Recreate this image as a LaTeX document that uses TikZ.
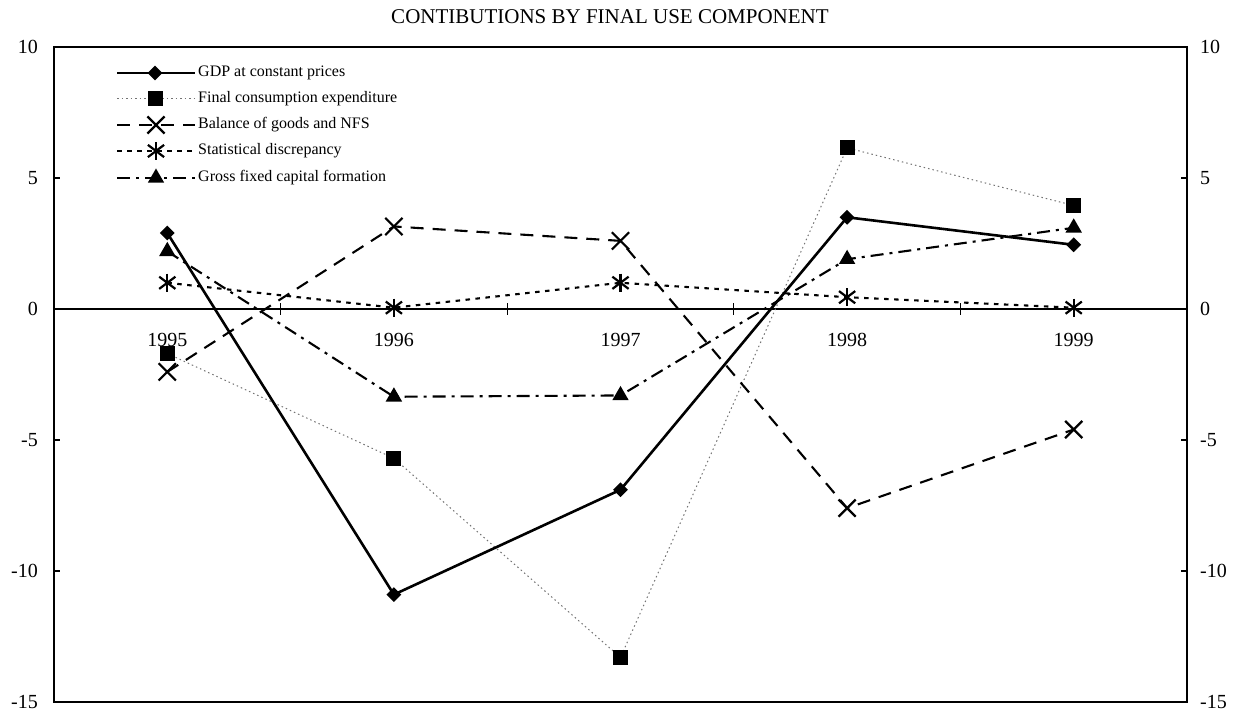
\documentclass[tikz,border=0pt]{standalone}
\usepackage{fontspec}
\setmainfont{Liberation Serif}
\usetikzlibrary{shapes.geometric,shapes.misc}
\begin{document}
\begin{tikzpicture}[x=1pt,y=1pt,
  frame/.style={line width=2.6pt},
  gdpline/.style={line width=2.6pt},
  fceline/.style={line width=1pt, black!55, dash pattern=on 1.5pt off 3pt},
  balline/.style={line width=2.1pt, dash pattern=on 13pt off 9pt},
  statline/.style={line width=2.1pt, dash pattern=on 4.5pt off 5.5pt},
  gfcfline/.style={line width=2.1pt, dash pattern=on 13pt off 6pt on 3pt off 6pt},
  diam/.style={diamond, fill=black, inner sep=0pt, minimum width=15pt, minimum height=15pt},
  sqmark/.style={rectangle, fill=black, inner sep=0pt, minimum size=15pt},
  xmark/.style={cross out, draw=black, line width=2.2pt, inner sep=0pt, minimum size=15pt},
  astmark/.style={cross out, draw=black, line width=2.2pt, inner sep=0pt, minimum width=14pt, minimum height=10pt},
  trimark/.style={regular polygon, regular polygon sides=3, fill=black, inner sep=0pt, minimum size=19pt},
  axlab/.style={font=\fontsize{20}{22}\selectfont, inner sep=0pt},
  leglab/.style={font=\fontsize{16}{18}\selectfont, inner sep=0pt, anchor=west},
  ast/.style={line width=2.2pt}
]
\useasboundingbox (0,0) rectangle (1241,712);
\node[font=\fontsize{21}{24}\selectfont, inner sep=0pt] (title) at (610,695) {CONTIBUTIONS BY FINAL USE COMPONENT};

\begin{scope}[x=226.6pt, y=26.2pt, shift={(167.3pt,403pt)}]
  % zero line with ticks
  \draw[line width=1.1pt] (-0.5,0) -- (4.5,0);
  \foreach \i in {0,1,2,3} {\draw[line width=0.9pt] (\i+0.5,0) ++(0,-6pt) -- ++(0,12pt);}
  % axis labels
  \foreach \v in {10,5,0,-5,-10,-15} {
    \node[axlab, anchor=east] (yl\v) at ([xshift=-16pt]-0.5,\v) {\v};
    \node[axlab, anchor=west] (yr\v) at ([xshift=13pt]4.5,\v) {\v};
    \draw[line width=1.6pt] (-0.5,\v) -- ++(6pt,0);
    \draw[line width=1.6pt] (4.5,\v) -- ++(-6pt,0);
  }
  \foreach \y [count=\i from 0] in {1995,1996,1997,1998,1999} {
    \node[axlab] (yr\y) at ([yshift=-31pt]\i,0) {\y};
  }
  % data coordinates
  \coordinate (g0) at (0,2.9);   \coordinate (g1) at (1,-10.9); \coordinate (g2) at (2,-6.9);
  \coordinate (g3) at (3,3.5);   \coordinate (g4) at (4,2.45);
  \coordinate (f0) at (0,-1.7);  \coordinate (f1) at (1,-5.7);  \coordinate (f2) at (2,-13.3);
  \coordinate (f3) at (3,6.15);  \coordinate (f4) at (4,3.95);
  \coordinate (b0) at (0,-2.4);  \coordinate (b1) at (1,3.15);  \coordinate (b2) at (2,2.6);
  \coordinate (b3) at (3,-7.6);  \coordinate (b4) at (4,-4.6);
  \coordinate (s0) at (0,1.0);   \coordinate (s1) at (1,0.05);  \coordinate (s2) at (2,1.0);
  \coordinate (s3) at (3,0.45);  \coordinate (s4) at (4,0.05);
  \coordinate (c0) at (0,2.2);   \coordinate (c1) at (1,-3.35); \coordinate (c2) at (2,-3.3);
  \coordinate (c3) at (3,1.9);   \coordinate (c4) at (4,3.1);
  % lines
  \draw[fceline] (f0) -- (f1) -- (f2) -- (f3) -- (f4);
  \draw[statline] (s0) -- (s1) -- (s2) -- (s3) -- (s4);
  \draw[gfcfline] (c0) -- (c1) -- (c2) -- (c3) -- (c4);
  \draw[balline] (b0) -- (b1) -- (b2) -- (b3) -- (b4);
  \draw[gdpline] (g0) -- (g1) -- (g2) -- (g3) -- (g4);
  % markers
  \foreach \k in {0,...,4} {
    \node[sqmark] (fm\k) at (f\k) {};
    \node[astmark] (sm\k) at (s\k) {};
    \draw[ast] ([yshift=3pt]sm\k.north) -- ([yshift=-3pt]sm\k.south);
    \node[trimark] (cm\k) at (c\k) {};
    \node[xmark] (bm\k) at (b\k) {};
    \node[diam] (gm\k) at (g\k) {};
  }
  % frame
  \draw[frame] (-0.5,-15) rectangle (4.5,10);
\end{scope}

% legend
\coordinate (la1) at (117,639); \coordinate (lb1) at (195,639);
\coordinate (la2) at (117,613); \coordinate (lb2) at (195,613);
\coordinate (la3) at (117,587); \coordinate (lb3) at (195,587);
\coordinate (la4) at (117,561); \coordinate (lb4) at (195,561);
\coordinate (la5) at (117,534); \coordinate (lb5) at (195,534);
\draw[gdpline] (la1) -- (lb1);
\draw[fceline] (la2) -- (lb2);
\draw[balline] (la3) -- (lb3);
\draw[statline] (la4) -- (lb4);
\draw[gfcfline] (la5) -- (lb5);
\node[diam] (lm1) at (155,639) {};
\node[sqmark] (lm2) at (155,613) {};
\node[xmark] (lm3) at (156,587) {};
\node[astmark] (lm4) at (156,561) {};
\draw[ast] ([yshift=3pt]lm4.north) -- ([yshift=-3pt]lm4.south);
\node[trimark] (lm5) at (156,534) {};
\node[leglab] (lt1) at (198,639) {GDP at constant prices};
\node[leglab] (lt2) at (198,613) {Final consumption expenditure};
\node[leglab] (lt3) at (198,587) {Balance of goods and NFS};
\node[leglab] (lt4) at (198,561) {Statistical discrepancy};
\node[leglab] (lt5) at (198,534) {Gross fixed capital formation};
\end{tikzpicture}
\end{document}
